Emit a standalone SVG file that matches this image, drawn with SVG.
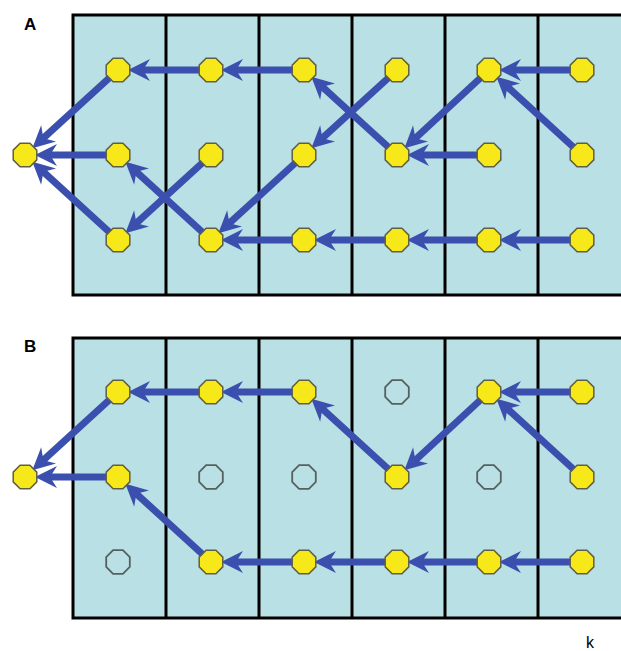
<svg xmlns="http://www.w3.org/2000/svg" xmlns:xlink="http://www.w3.org/1999/xlink" width="621" height="651" viewBox="0 0 621 651">
<style>
.panel{fill:#b9e0e4;stroke:#000;stroke-width:3}
.div{stroke:#000;stroke-width:3}
.e{stroke:#3a4fae;stroke-width:7;fill:none;marker-end:url(#ah)}
.on{fill:#f7e81a;stroke:#5f5f44;stroke-width:1.5}
.off{fill:none;stroke:#55605f;stroke-width:1.8}
.lbl{font-family:"Liberation Sans",Arial,sans-serif;font-weight:bold;font-size:17px;fill:#000}
.k{font-family:"Liberation Sans",Arial,sans-serif;font-size:16px;fill:#000}
</style>
<defs>
<marker id="ah" markerUnits="userSpaceOnUse" orient="auto" refX="0" refY="0" markerWidth="40" markerHeight="40" viewBox="-20 -20 40 40" overflow="visible">
<path d="M12,0 L-10,-11 L-3,0 L-10,11 Z" fill="#3a4fae"/>
</marker>
<polygon id="oct" points="11.8,4.9 4.9,11.8 -4.9,11.8 -11.8,4.9 -11.8,-4.9 -4.9,-11.8 4.9,-11.8 11.8,-4.9"/>
</defs>
<rect width="621" height="651" fill="#fff"/>
<g id="panelA">
<rect class="panel" x="73" y="15" width="560" height="280"/>
<line class="div" x1="166" y1="15" x2="166" y2="295"/>
<line class="div" x1="259" y1="15" x2="259" y2="295"/>
<line class="div" x1="352" y1="15" x2="352" y2="295"/>
<line class="div" x1="445" y1="15" x2="445" y2="295"/>
<line class="div" x1="538" y1="15" x2="538" y2="295"/>
<text class="lbl" x="24" y="30">A</text>
</g>
<g id="panelB">
<rect class="panel" x="73" y="338" width="560" height="280"/>
<line class="div" x1="166" y1="338" x2="166" y2="618"/>
<line class="div" x1="259" y1="338" x2="259" y2="618"/>
<line class="div" x1="352" y1="338" x2="352" y2="618"/>
<line class="div" x1="445" y1="338" x2="445" y2="618"/>
<line class="div" x1="538" y1="338" x2="538" y2="618"/>
<text class="lbl" x="24" y="352">B</text>
</g>
<text class="k" x="586" y="648">k</text>
<g id="connectors">
<line class="e" x1="118" y1="70" x2="41.2" y2="140.2"/>
<line class="e" x1="118" y1="155" x2="47" y2="155"/>
<line class="e" x1="118" y1="240" x2="41.2" y2="169.8"/>
<line class="e" x1="211" y1="70" x2="140" y2="70"/>
<line class="e" x1="304" y1="70" x2="233" y2="70"/>
<line class="e" x1="211" y1="155" x2="134.2" y2="225.2"/>
<line class="e" x1="211" y1="240" x2="134.2" y2="169.8"/>
<line class="e" x1="397" y1="70" x2="320.2" y2="140.2"/>
<line class="e" x1="397" y1="155" x2="320.2" y2="84.8"/>
<line class="e" x1="304" y1="155" x2="227.2" y2="225.2"/>
<line class="e" x1="304" y1="240" x2="233" y2="240"/>
<line class="e" x1="397" y1="240" x2="326" y2="240"/>
<line class="e" x1="489" y1="240" x2="419" y2="240"/>
<line class="e" x1="582" y1="240" x2="511" y2="240"/>
<line class="e" x1="489" y1="155" x2="419" y2="155"/>
<line class="e" x1="489" y1="70" x2="413.2" y2="140.2"/>
<line class="e" x1="582" y1="70" x2="511" y2="70"/>
<line class="e" x1="582" y1="155" x2="505.2" y2="84.8"/>
<line class="e" x1="118" y1="392" x2="41.2" y2="462.2"/>
<line class="e" x1="118" y1="477" x2="47" y2="477"/>
<line class="e" x1="211" y1="562" x2="134.2" y2="491.8"/>
<line class="e" x1="211" y1="392" x2="140" y2="392"/>
<line class="e" x1="304" y1="392" x2="233" y2="392"/>
<line class="e" x1="397" y1="477" x2="320.2" y2="406.8"/>
<line class="e" x1="489" y1="392" x2="413.2" y2="462.2"/>
<line class="e" x1="582" y1="392" x2="511" y2="392"/>
<line class="e" x1="582" y1="477" x2="505.2" y2="406.8"/>
<line class="e" x1="304" y1="562" x2="233" y2="562"/>
<line class="e" x1="397" y1="562" x2="326" y2="562"/>
<line class="e" x1="489" y1="562" x2="419" y2="562"/>
<line class="e" x1="582" y1="562" x2="511" y2="562"/>
</g>
<g id="nA0"><use href="#oct" class="on" x="25" y="155"/></g>
<g id="nA11"><use href="#oct" class="on" x="118" y="70"/></g>
<g id="nA12"><use href="#oct" class="on" x="118" y="155"/></g>
<g id="nA13"><use href="#oct" class="on" x="118" y="240"/></g>
<g id="nA21"><use href="#oct" class="on" x="211" y="70"/></g>
<g id="nA22"><use href="#oct" class="on" x="211" y="155"/></g>
<g id="nA23"><use href="#oct" class="on" x="211" y="240"/></g>
<g id="nA31"><use href="#oct" class="on" x="304" y="70"/></g>
<g id="nA32"><use href="#oct" class="on" x="304" y="155"/></g>
<g id="nA33"><use href="#oct" class="on" x="304" y="240"/></g>
<g id="nA41"><use href="#oct" class="on" x="397" y="70"/></g>
<g id="nA42"><use href="#oct" class="on" x="397" y="155"/></g>
<g id="nA43"><use href="#oct" class="on" x="397" y="240"/></g>
<g id="nA51"><use href="#oct" class="on" x="489" y="70"/></g>
<g id="nA52"><use href="#oct" class="on" x="489" y="155"/></g>
<g id="nA53"><use href="#oct" class="on" x="489" y="240"/></g>
<g id="nA61"><use href="#oct" class="on" x="582" y="70"/></g>
<g id="nA62"><use href="#oct" class="on" x="582" y="155"/></g>
<g id="nA63"><use href="#oct" class="on" x="582" y="240"/></g>
<g id="nB0"><use href="#oct" class="on" x="25" y="477"/></g>
<g id="nB11"><use href="#oct" class="on" x="118" y="392"/></g>
<g id="nB12"><use href="#oct" class="on" x="118" y="477"/></g>
<g id="nB13"><use href="#oct" class="off" x="118" y="562"/></g>
<g id="nB21"><use href="#oct" class="on" x="211" y="392"/></g>
<g id="nB22"><use href="#oct" class="off" x="211" y="477"/></g>
<g id="nB23"><use href="#oct" class="on" x="211" y="562"/></g>
<g id="nB31"><use href="#oct" class="on" x="304" y="392"/></g>
<g id="nB32"><use href="#oct" class="off" x="304" y="477"/></g>
<g id="nB33"><use href="#oct" class="on" x="304" y="562"/></g>
<g id="nB41"><use href="#oct" class="off" x="397" y="392"/></g>
<g id="nB42"><use href="#oct" class="on" x="397" y="477"/></g>
<g id="nB43"><use href="#oct" class="on" x="397" y="562"/></g>
<g id="nB51"><use href="#oct" class="on" x="489" y="392"/></g>
<g id="nB52"><use href="#oct" class="off" x="489" y="477"/></g>
<g id="nB53"><use href="#oct" class="on" x="489" y="562"/></g>
<g id="nB61"><use href="#oct" class="on" x="582" y="392"/></g>
<g id="nB62"><use href="#oct" class="on" x="582" y="477"/></g>
<g id="nB63"><use href="#oct" class="on" x="582" y="562"/></g>
</svg>
